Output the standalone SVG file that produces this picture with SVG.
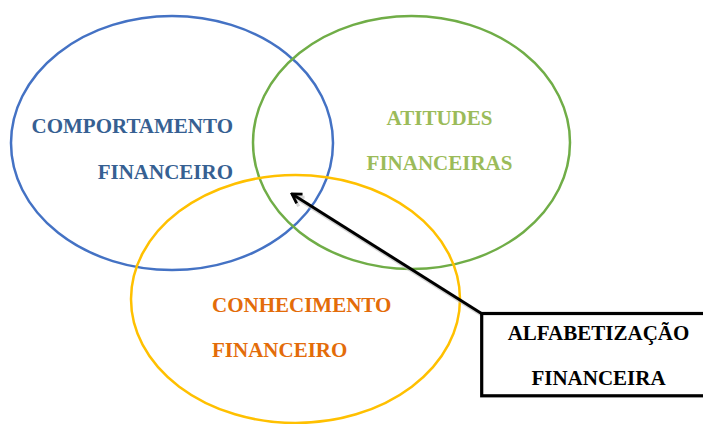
<svg xmlns="http://www.w3.org/2000/svg" width="703" height="424" viewBox="0 0 703 424">
<style>
.t{font-family:"Liberation Serif","Times New Roman",serif;font-weight:bold;font-size:21px}
.e{fill:none;stroke-width:2.5}
</style>
<defs>
<marker id="ah" viewBox="0 0 14 14" refX="12" refY="7" markerWidth="14" markerHeight="14" markerUnits="userSpaceOnUse" orient="auto">
<polyline points="3,1.5 12,7 3,12.5" fill="none" stroke="#000" stroke-width="2.8"/>
</marker>
<marker id="ahs" viewBox="0 0 14 14" refX="12" refY="7" markerWidth="14" markerHeight="14" markerUnits="userSpaceOnUse" orient="auto">
<polyline points="3,1.5 12,7 3,12.5" fill="none" stroke="#bbb" stroke-width="3"/>
</marker>
</defs>
<rect width="703" height="424" fill="#fff"/>
<g id="comportamento">
<ellipse class="e" cx="172" cy="143" rx="161" ry="127" stroke="#4472C4"/>
<text class="t" font-family="Liberation Serif" fill="#366092" x="233" y="133" text-anchor="end">COMPORTAMENTO</text>
<text class="t" font-family="Liberation Serif" fill="#366092" x="233" y="179" text-anchor="end">FINANCEIRO</text>
</g>
<g id="atitudes">
<ellipse class="e" cx="411.5" cy="142.5" rx="158.5" ry="126.5" stroke="#70AD47"/>
<text class="t" font-family="Liberation Serif" fill="#9BBB59" x="439.5" y="125" text-anchor="middle">ATITUDES</text>
<text class="t" font-family="Liberation Serif" fill="#9BBB59" x="439.5" y="170" text-anchor="middle">FINANCEIRAS</text>
</g>
<g id="conhecimento">
<ellipse class="e" cx="295.5" cy="299" rx="164.5" ry="124" stroke="#FFC000"/>
<text class="t" font-family="Liberation Serif" fill="#E36C09" x="212" y="312">CONHECIMENTO</text>
<text class="t" font-family="Liberation Serif" fill="#E36C09" x="212" y="357">FINANCEIRO</text>
</g>
<g id="connectors">
<line x1="483" y1="316" x2="294" y2="197" stroke="#bbb" stroke-width="3" opacity="0.6" marker-end="url(#ahs)"/>
<line x1="481.5" y1="313.5" x2="292" y2="194" stroke="#000" stroke-width="3" marker-end="url(#ah)"/>
</g>
<g id="alfabetizacao">
<rect x="481.7" y="313.5" width="225" height="82.3" fill="#fff" stroke="#000" stroke-width="3.2"/>
<text class="t" font-family="Liberation Serif" fill="#000" x="598.5" y="340" text-anchor="middle">ALFABETIZAÇÃO</text>
<text class="t" font-family="Liberation Serif" fill="#000" x="598.5" y="385" text-anchor="middle">FINANCEIRA</text>
</g>
</svg>
